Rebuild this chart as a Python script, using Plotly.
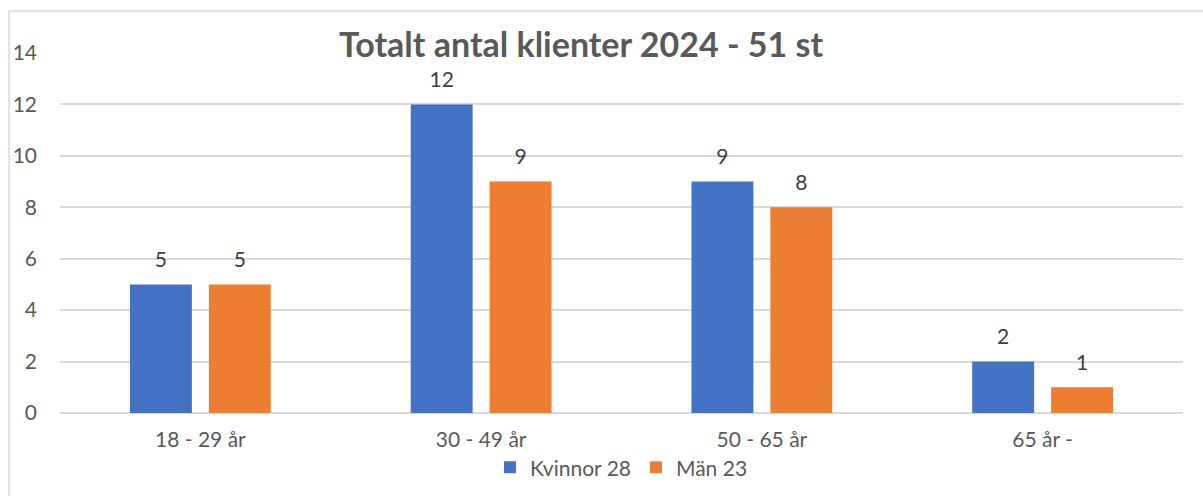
import plotly.graph_objects as go

categories = ["18 - 29 år", "30 - 49 år", "50 - 65 år", "65 år -"]
kvinnor = [5, 12, 9, 2]
man = [5, 9, 8, 1]
series_names = ["Kvinnor 28", "Män 23"]
title_text = "Totalt antal klienter 2024 - 51 st"
y_ticks = [0, 2, 4, 6, 8, 10, 12, 14]

FONT = "Lato"
COLORS = ["#4472C4", "#ED7D31"]
BARGAP = 0.438

fig = go.Figure()
for name, vals, col, grp in [(series_names[0], kvinnor, COLORS[0], "k"),
                             (series_names[1], man, COLORS[1], "m")]:
    fig.add_trace(go.Bar(
        x=categories, y=vals, name=name, offsetgroup=grp,
        marker=dict(color=col, line=dict(width=0)),
        hoverinfo="x+y",
    ))
for vals, grp in [(kvinnor, "k"), (man, "m")]:
    fig.add_trace(go.Scatter(
        x=categories, y=vals, mode="markers+text", offsetgroup=grp,
        text=[str(v) for v in vals], textposition="top center",
        marker=dict(size=18, opacity=0), cliponaxis=False,
        textfont=dict(family=FONT, size=21, color="#404040"),
        showlegend=False, hoverinfo="skip",
    ))

fig.update_layout(
    width=1203, height=496,
    margin=dict(l=60, r=20, t=53, b=83, autoexpand=False),
    paper_bgcolor="white", plot_bgcolor="white",
    barmode="group", bargap=BARGAP, bargroupgap=0.215,
    scattermode="group", scattergap=BARGAP,
    font=dict(family=FONT, size=21, color="#595959"),
    title=dict(text="<b>" + title_text + "</b>", x=0.483, xanchor="center",
               y=0.91, yanchor="middle",
               font=dict(family=FONT, size=34, color="#595959")),
    showlegend=True,
    legend=dict(orientation="h", x=0.5, xanchor="center", y=-0.095, yanchor="top",
                bgcolor="rgba(0,0,0,0)",
                font=dict(family=FONT, size=21, color="#595959"),
                itemwidth=30, traceorder="normal"),
)
fig.update_yaxes(range=[0, 14], tickvals=y_ticks, showgrid=True, gridcolor="#D9D9D9",
                 gridwidth=1.5, zeroline=True, zerolinecolor="#D9D9D9", zerolinewidth=1.5,
                 showline=False, ticks="", ticklabelstandoff=22, automargin=False,
                 tickfont=dict(family=FONT, size=21, color="#595959"))
fig.update_xaxes(showgrid=False, showline=False, ticks="", ticklabelstandoff=12,
                 automargin=False,
                 tickfont=dict(family=FONT, size=21, color="#595959"))

# chart-area border
fig.add_shape(type="rect", xref="paper", yref="paper",
              x0=(9 - 60) / 1123, x1=1.2, y0=-0.5, y1=1 + (53 - 11) / 360,
              line=dict(color="#D9D9D9", width=1.5), fillcolor="rgba(0,0,0,0)", layer="below")

fig.write_html("out.html", config={"displayModeBar": False},
               post_script="document.body.style.margin='0';")
